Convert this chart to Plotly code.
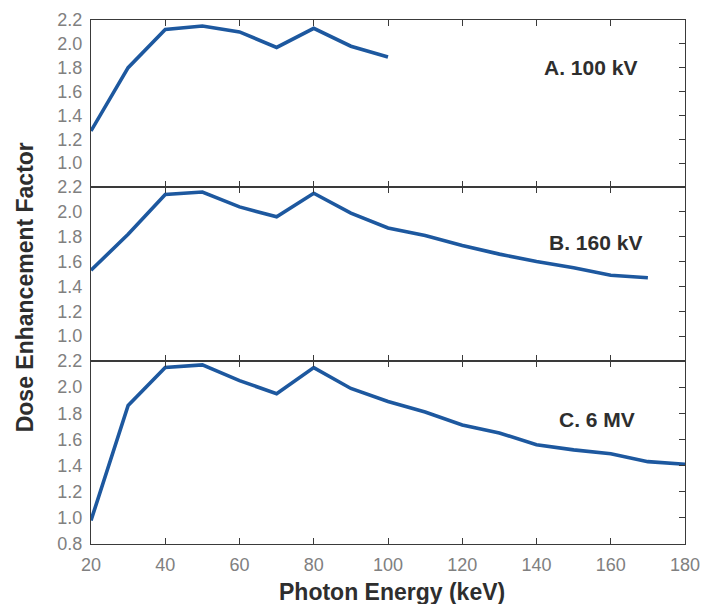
import plotly.graph_objects as go

# Data
energy_a = [20, 30, 40, 50, 60, 70, 80, 90, 100]
def_a = [1.27, 1.80, 2.12, 2.15, 2.10, 1.97, 2.13, 1.98, 1.89]

energy_b = [20, 30, 40, 50, 60, 70, 80, 90, 100, 110, 120, 130, 140, 150, 160, 170]
def_b = [1.53, 1.82, 2.14, 2.16, 2.04, 1.96, 2.15, 1.99, 1.87, 1.81, 1.73, 1.66, 1.60, 1.55, 1.49, 1.47]

energy_c = [20, 30, 40, 50, 60, 70, 80, 90, 100, 110, 120, 130, 140, 150, 160, 170, 180]
def_c = [0.98, 1.86, 2.15, 2.17, 2.05, 1.95, 2.15, 1.99, 1.89, 1.81, 1.71, 1.65, 1.56, 1.52, 1.49, 1.43, 1.41]

panel_labels = ["A. 100 kV", "B. 160 kV", "C. 6 MV"]
x_ticks = [20, 40, 60, 80, 100, 120, 140, 160, 180]
y_ticks_upper = [1.0, 1.2, 1.4, 1.6, 1.8, 2.0, 2.2]
y_ticks_lower = [0.8, 1.0, 1.2, 1.4, 1.6, 1.8, 2.0, 2.2]

LINE = "#1d589f"
FRAME = "#3a3a3a"
TICKC = "#808080"
FONT = "Liberation Sans, Arial, sans-serif"

domains = [[0.6813, 1.0], [0.3492, 0.6813], [0.0, 0.3492]]
series = [(energy_a, def_a), (energy_b, def_b), (energy_c, def_c)]

fig = go.Figure()
layout = {}
for i, ((xs, ys), dom) in enumerate(zip(series, domains)):
    n = i + 1
    xa = "x" if n == 1 else f"x{n}"
    ya = "y" if n == 1 else f"y{n}"
    fig.add_trace(go.Scatter(x=xs, y=ys, mode="lines", xaxis=xa, yaxis=ya,
                             line=dict(color=LINE, width=3.6), showlegend=False,
                             hoverinfo="skip"))
    # invisible trace for the right-side tick axis
    ra = f"y{n + 3}"
    fig.add_trace(go.Scatter(x=[xs[0]], y=[ys[0]], mode="lines", xaxis=xa, yaxis=ra,
                             line=dict(width=0), opacity=0, showlegend=False,
                             hoverinfo="skip"))
    xkey = "xaxis" if n == 1 else f"xaxis{n}"
    ykey = "yaxis" if n == 1 else f"yaxis{n}"
    layout[xkey] = dict(
        domain=[0, 1], anchor=ya, range=[20, 180], tickvals=x_ticks,
        ticks="inside", ticklen=6, tickwidth=1.2, tickcolor=FRAME,
        showline=True, linecolor=FRAME, linewidth=1, mirror="ticks",
        showgrid=False, zeroline=False, automargin=False,
        showticklabels=(n == 3), ticklabelstandoff=4,
        tickfont=dict(family=FONT, size=18, color=TICKC),
    )
    if n != 1:
        layout[xkey]["matches"] = "x"
    yt = y_ticks_lower if n == 3 else y_ticks_upper
    layout[ykey] = dict(
        domain=dom, anchor=xa, range=[0.8, 2.2], tickvals=yt,
        ticktext=[f"{v:.1f}" for v in yt],
        ticks="", showline=True, linecolor=FRAME, linewidth=1, mirror=True,
        showgrid=False, zeroline=False, ticklabelstandoff=4, automargin=False,
        tickfont=dict(family=FONT, size=18, color=TICKC),
    )
    layout[f"yaxis{n + 3}"] = dict(
        overlaying=ya, side="right", anchor=xa, range=[0.8, 2.2],
        tickvals=yt, ticks="inside", ticklen=6, tickwidth=1.2, tickcolor=FRAME,
        showticklabels=False, showgrid=False, zeroline=False, showline=False,
        automargin=False,
    )

fig.update_layout(**layout)

annotations = []
label_pos = [(154.5, 1.80, "x", "y"), (156, 1.75, "x2", "y2"), (156.3, 1.75, "x3", "y3")]
for text, (lx, ly, xr, yr) in zip(panel_labels, label_pos):
    annotations.append(dict(x=lx, y=ly, xref=xr, yref=yr, text=f"<b>{text}</b>",
                            xanchor="center", yanchor="middle",
                            showarrow=False, font=dict(family=FONT, size=21, color="#2e2e2e")))
annotations.append(dict(x=-0.111, y=0.49, xref="paper", yref="paper",
                        xanchor="center", yanchor="middle",
                        text="<b>Dose Enhancement Factor</b>", textangle=-90,
                        showarrow=False, font=dict(family=FONT, size=23, color="#2e2e2e")))
annotations.append(dict(x=0.507, y=-0.0916, xref="paper", yref="paper",
                        xanchor="center", yanchor="middle",
                        text="<b>Photon Energy (keV)</b>",
                        showarrow=False, font=dict(family=FONT, size=23, color="#2e2e2e")))

fig.update_layout(
    width=705, height=604,
    margin=dict(l=91, r=20, t=20, b=60),
    paper_bgcolor="white", plot_bgcolor="white",
    annotations=annotations,
)

fig.write_html("out.html", config={"displayModeBar": False},
               post_script="document.body.style.margin='0';document.body.style.overflow='hidden';")
